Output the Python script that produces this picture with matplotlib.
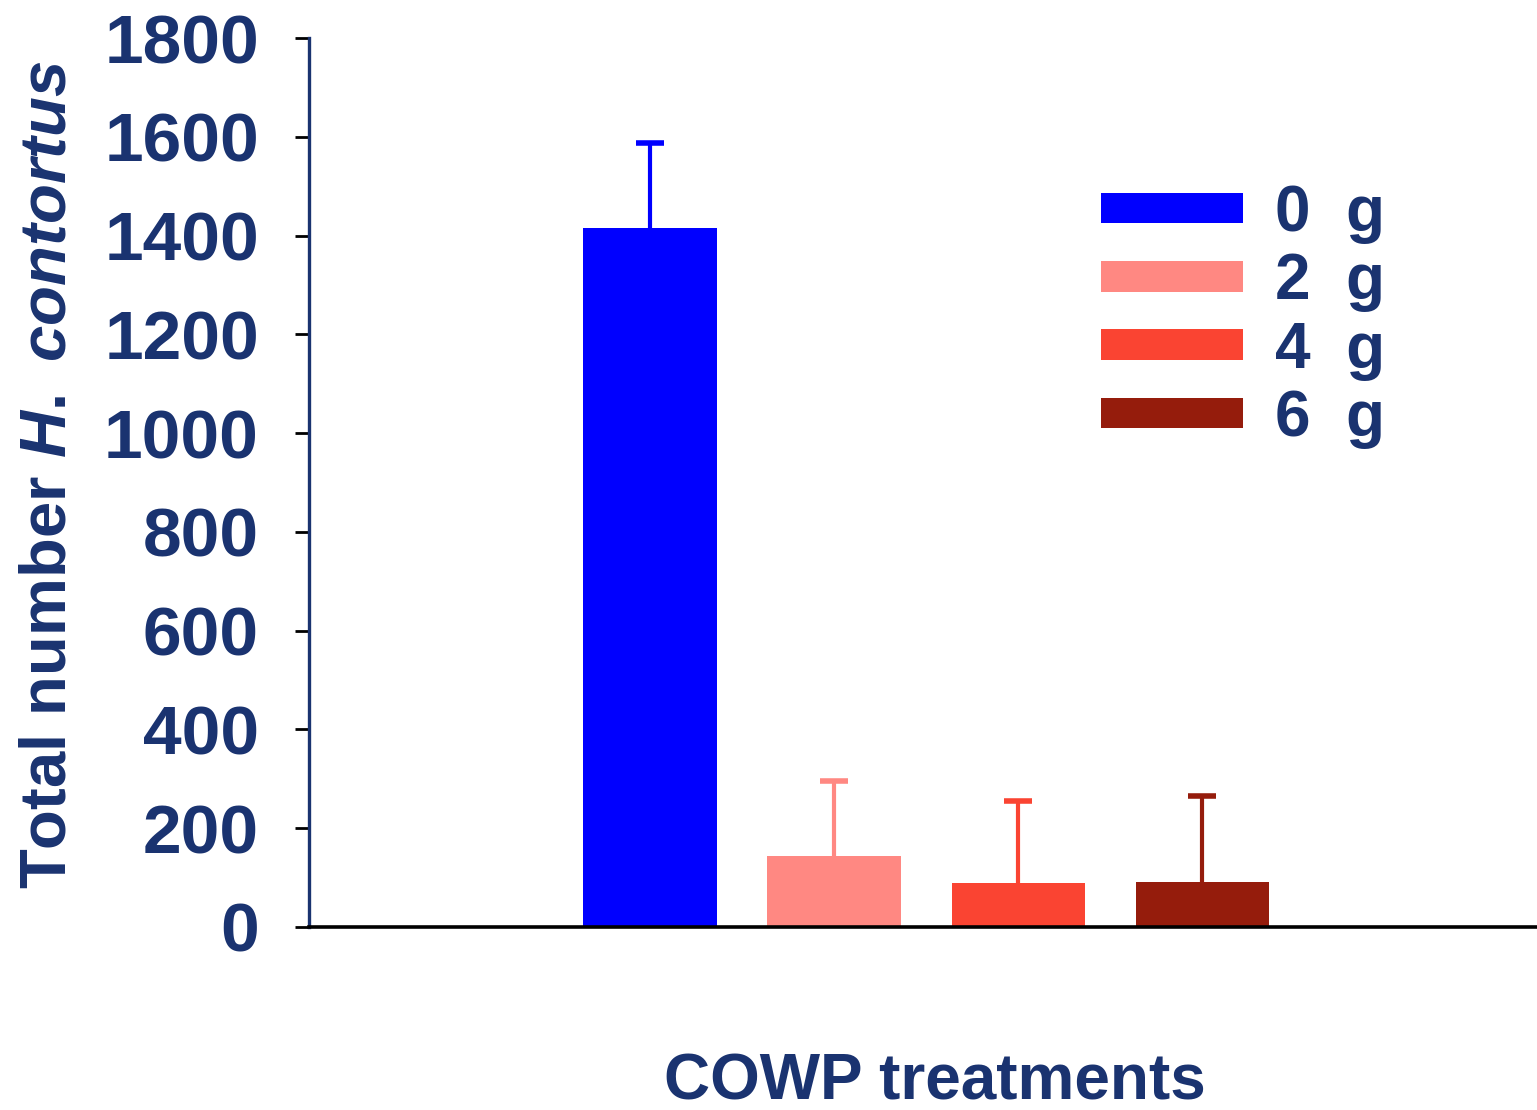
import numpy as np
import matplotlib
matplotlib.use("Agg")
import matplotlib.pyplot as plt

# data
treatments = ["0  g", "2  g", "4  g", "6  g"]
means = [1415, 144, 89, 91]
upper_err = [172, 152, 166, 174]
colors = ["#0000FF", "#FF8882", "#FA4432", "#951C0C"]

NAVY = "#1A3370"
plt.rcParams["font.family"] = ["Liberation Sans", "DejaVu Sans"]
plt.rcParams["font.weight"] = "bold"
plt.rcParams["mathtext.fontset"] = "custom"
plt.rcParams["mathtext.it"] = "Liberation Sans:italic:bold"
plt.rcParams["mathtext.rm"] = "Liberation Sans:bold"

W, H = 1537, 1110
fig = plt.figure(figsize=(W / 100, H / 100), dpi=100)
ax = fig.add_axes([309 / W, 1 - 927 / H, (W - 309) / W, (927 - 38) / H])

xs = np.arange(len(means))
bars = ax.bar(xs, means, width=0.723, color=colors, zorder=2)
for x, m, e, c in zip(xs, means, upper_err, colors):
    _, caps, _ = ax.errorbar(x, m, yerr=[[0], [e]], fmt="none", ecolor=c,
                             elinewidth=3, capsize=10, capthick=4, zorder=1)
    caps[0].set_visible(False)   # only the upper whisker is drawn

ax.set_xlim(-1.853, 4.82)
ax.set_ylim(0, 1800)
ax.set_yticks(np.arange(0, 1801, 200))
ax.set_xticks([])

for s in ("top", "right"):
    ax.spines[s].set_visible(False)
ax.spines["left"].set_color(NAVY)
ax.spines["left"].set_linewidth(2.4)
ax.spines["bottom"].set_color("black")
ax.spines["bottom"].set_linewidth(2.6)
ax.spines["bottom"].set_zorder(3)

ax.tick_params(axis="y", direction="out", length=10, width=2, color="black",
               labelsize=50, labelcolor=NAVY, pad=26)
for t in ax.get_yticklabels():
    t.set_fontweight("bold")

fig.text(49 / W, 1 - 475 / H, "Total number $\\mathit{H.\\ contortus}$",
         rotation=90, ha="center", va="center", fontsize=47,
         fontweight="bold", color=NAVY)
fig.text(935 / W, 1 - 1082 / H, "COWP treatments", ha="center", va="center",
         fontsize=46, fontweight="bold", color=NAVY)

leg = ax.legend(bars, treatments, loc="upper left",
                bbox_to_anchor=(1101 / W, 1 - 184 / H),
                bbox_transform=fig.transFigure, frameon=False,
                fontsize=46, handlelength=2.22, handleheight=0.36,
                handletextpad=0.5, labelspacing=0.13, borderpad=0,
                borderaxespad=0)
for t in leg.get_texts():
    t.set_color(NAVY)
    t.set_fontweight("bold")

fig.savefig("out.png", dpi=100)
